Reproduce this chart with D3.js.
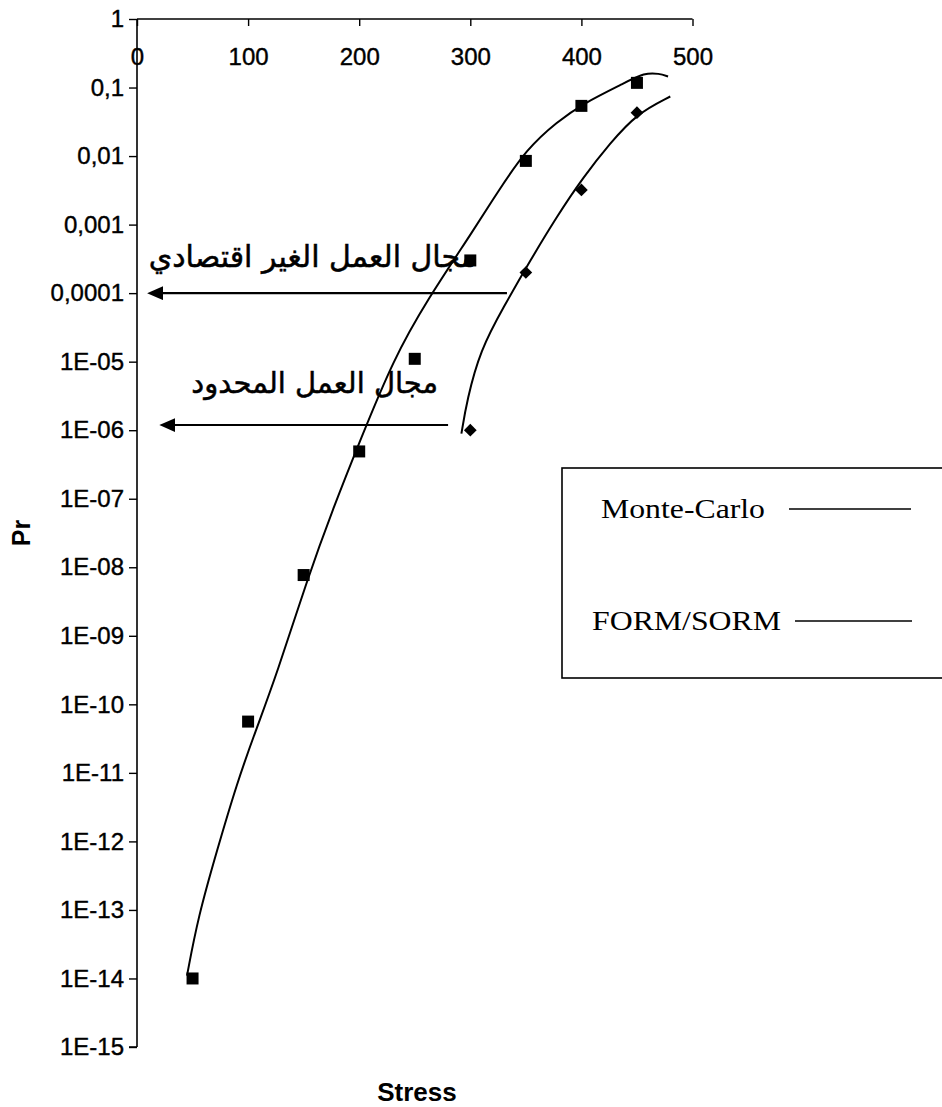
<!DOCTYPE html>
<html>
<head>
<meta charset="utf-8">
<script src="https://cdn.jsdelivr.net/npm/d3@7"></script>
<style>
  html, body { margin: 0; padding: 0; background: #fff; }
  svg { display: block; }
</style>
</head>
<body>
<script>
// ---------- data ----------
const xTicks = [0, 100, 200, 300, 400, 500];
const yTicks = [1, 1e-1, 1e-2, 1e-3, 1e-4, 1e-5, 1e-6, 1e-7, 1e-8, 1e-9, 1e-10, 1e-11, 1e-12, 1e-13, 1e-14, 1e-15];
const yTickLabels = ["1", "0,1", "0,01", "0,001", "0,0001", "1E-05", "1E-06", "1E-07", "1E-08", "1E-09", "1E-10", "1E-11", "1E-12", "1E-13", "1E-14", "1E-15"];

// Monte-Carlo points (squares)
const mcStress = [50, 100, 150, 200, 250, 300, 350, 400, 450];
const mcPr = [1e-14, 5.6e-11, 7.7e-9, 4.9e-7, 1.1e-5, 3.0e-4, 8.5e-3, 0.054, 0.117];

// FORM/SORM points (diamonds)
const formStress = [300, 350, 400, 450];
const formPr = [1e-6, 2.0e-4, 3.2e-3, 0.043];

// Trend curves
const mcTrendStress = [45, 55, 72, 90, 106, 126, 153, 177, 201, 231, 261, 303, 324, 351, 378, 402, 438, 457, 470, 478];
const mcTrendPr = [1.1e-14, 7.9e-14, 7.4e-13, 7.1e-12, 3.8e-11, 2.8e-10, 6.5e-9, 7.6e-8, 7.2e-7, 1.1e-5, 7.9e-5, 8.3e-4, 2.9e-3, 0.0129, 0.0316, 0.059, 0.115, 0.165, 0.16, 0.145];
const formTrendStress = [292, 297, 309, 330, 354, 378, 402, 426, 450, 480];
const formTrendPr = [8.9e-7, 2.75e-6, 1.48e-5, 6.3e-5, 3.0e-4, 1.32e-3, 5.0e-3, 0.0155, 0.0417, 0.074];

// Annotations (arrows and Arabic labels), in data units
const arrowFromStress = [333, 280];
const arrowToStress = [10, 21];
const arrowPr = [1e-4, 1.19e-6];
const noteTexts = ["مجال العمل الغير اقتصادي", "مجال العمل المحدود"];
const noteStress = [306, 271];
const notePr = [2.4e-4, 3.5e-6];

const legendLabels = ["Monte-Carlo", "FORM/SORM"];

// ---------- drawing ----------
const W = 942, H = 1107;
const svg = d3.select("body").append("svg").attr("width", W).attr("height", H);
svg.append("rect").attr("width", W).attr("height", H).attr("fill", "#fff");

const x = d3.scaleLinear().domain([0, 500]).range([137, 692.5]);
const y = d3.scaleLog().domain([1e-15, 1]).range([1047, 19]);

const sans = "'Liberation Sans', Arial, sans-serif";
const serif = "'Liberation Serif', 'Times New Roman', serif";

// y axis
const yAxis = d3.axisLeft(y).tickValues(yTicks).tickSize(8).tickPadding(5)
  .tickFormat((d, i) => yTickLabels[i]);
const gy = svg.append("g").attr("transform", `translate(${x(0)},0)`).call(yAxis);
gy.select(".domain").attr("d", `M0,${y(1)}V${y(1e-15)}M-8,${y(1e-15)}H0`).attr("stroke-width", 1.6);
gy.selectAll(".tick line").attr("stroke-width", 1.4);
gy.selectAll(".tick text").attr("font-family", sans).attr("font-size", 24).attr("fill", "#000")
  .attr("stroke", "#000").attr("stroke-width", 0.4);

// x axis (top)
const xAxis = d3.axisBottom(x).tickValues(xTicks).tickSize(7).tickPadding(22);
const gx = svg.append("g").attr("transform", `translate(0,${y(1)})`).call(xAxis);
gx.select(".domain").attr("d", `M${x(0)},0H${x(500)}`).attr("stroke-width", 1.6);
gx.selectAll(".tick line").attr("stroke-width", 1.4);
gx.selectAll(".tick text").attr("font-family", sans).attr("font-size", 24).attr("fill", "#000")
  .attr("stroke", "#000").attr("stroke-width", 0.4);

// axis titles
svg.append("text").attr("transform", `translate(30,${(y(1e-7) + y(1e-8)) / 2}) rotate(-90)`)
  .attr("text-anchor", "middle").attr("font-family", sans).attr("font-weight", "bold")
  .attr("font-size", 25).text("Pr");
svg.append("text").attr("x", 417).attr("y", 1101).attr("text-anchor", "middle")
  .attr("font-family", sans).attr("font-weight", "bold").attr("font-size", 26).text("Stress");

// trend curves
const line = d3.line().x(d => x(d[0])).y(d => y(d[1])).curve(d3.curveBasis);
svg.append("path").attr("d", line(d3.zip(mcTrendStress, mcTrendPr)))
  .attr("fill", "none").attr("stroke", "#000").attr("stroke-width", 2);
svg.append("path").attr("d", line(d3.zip(formTrendStress, formTrendPr)))
  .attr("fill", "none").attr("stroke", "#000").attr("stroke-width", 2);

// arrows
const defs = svg.append("defs");
defs.append("marker").attr("id", "ah").attr("viewBox", "0 0 16 14").attr("refX", 15).attr("refY", 7)
  .attr("markerWidth", 16).attr("markerHeight", 14).attr("markerUnits", "userSpaceOnUse").attr("orient", "auto")
  .append("path").attr("d", "M0,0 L16,7 L0,14 Z").attr("fill", "#000");
arrowPr.forEach((p, i) => {
  svg.append("line")
    .attr("x1", x(arrowFromStress[i])).attr("y1", y(p))
    .attr("x2", x(arrowToStress[i]) + 6).attr("y2", y(p))
    .attr("stroke", "#000").attr("stroke-width", 2.2);
  svg.append("line")
    .attr("x1", x(arrowToStress[i]) + 8).attr("y1", y(p))
    .attr("x2", x(arrowToStress[i])).attr("y2", y(p))
    .attr("stroke", "none").attr("marker-end", "url(#ah)");
});

// Arabic notes
const noteSizes = [30, 29];
noteTexts.forEach((t, i) => {
  svg.append("text").attr("x", x(noteStress[i])).attr("y", y(notePr[i]))
    .attr("direction", "rtl").attr("text-anchor", "start")
    .attr("font-family", "'DejaVu Sans', sans-serif")
    .attr("font-size", noteSizes[i]).attr("fill", "#000")
    .attr("stroke", "#000").attr("stroke-width", 0.5).text(t);
});

// markers
svg.append("g").selectAll("path").data(d3.zip(mcStress, mcPr)).join("path")
  .attr("d", d3.symbol(d3.symbolSquare, 144)())
  .attr("transform", d => `translate(${x(d[0])},${y(d[1])})`).attr("fill", "#000");
svg.append("g").selectAll("path").data(d3.zip(formStress, formPr)).join("path")
  .attr("d", d3.symbol(d3.symbolSquare, 81)())
  .attr("transform", d => `translate(${x(d[0])},${y(d[1])}) rotate(45)`).attr("fill", "#000");

// legend
const lg = svg.append("g");
lg.append("rect").attr("x", 562).attr("y", 468).attr("width", 400).attr("height", 210)
  .attr("fill", "#fff").attr("stroke", "#000").attr("stroke-width", 1.6);
const legY = [518, 630], legTx = [601, 592], legLen = [164, 189], legLine = [[789, 911], [795, 912]];
legendLabels.forEach((t, i) => {
  lg.append("text").attr("x", legTx[i]).attr("y", legY[i]).attr("font-family", serif)
    .attr("font-size", 28).attr("fill", "#000")
    .attr("textLength", legLen[i]).attr("lengthAdjust", "spacingAndGlyphs").text(t);
  lg.append("line").attr("x1", legLine[i][0]).attr("x2", legLine[i][1])
    .attr("y1", legY[i] - 9).attr("y2", legY[i] - 9).attr("stroke", "#000").attr("stroke-width", 1.5);
});
</script>
</body>
</html>
